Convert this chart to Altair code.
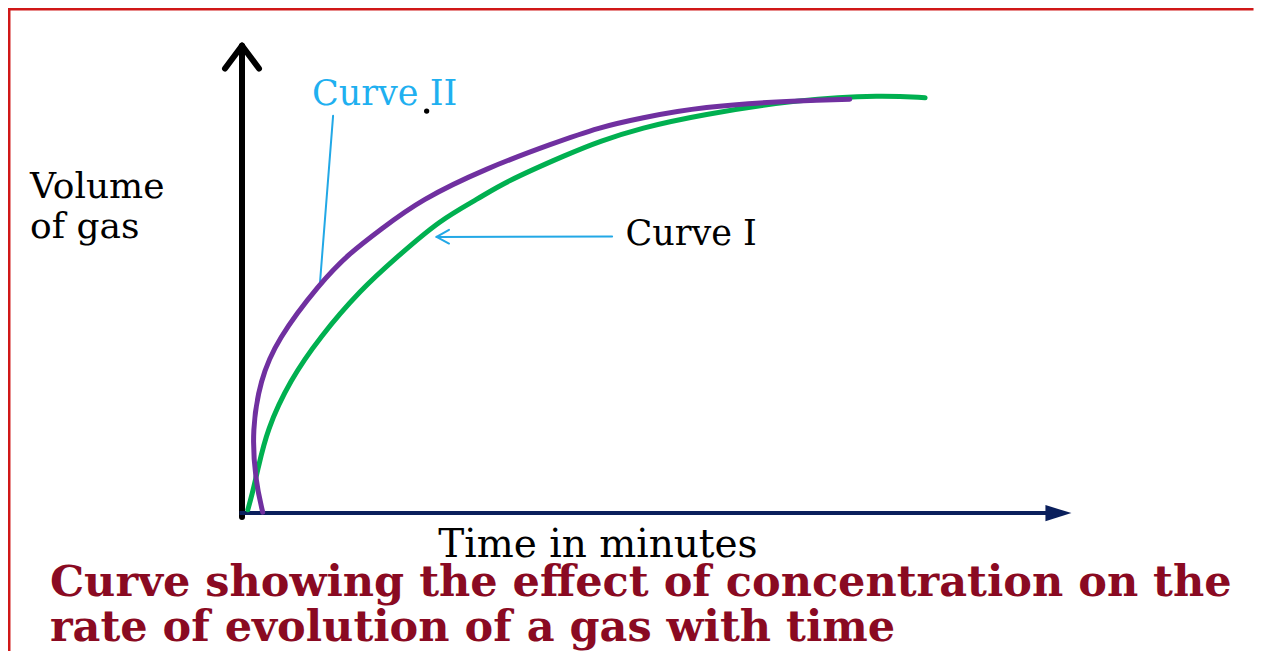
import altair as alt
import pandas as pd

# ---- data (time, volume in arbitrary units 0-100) ----
curve1_t = [0.7, 1.2, 1.9, 3.0, 5.8, 9.4, 14.3, 18.7, 23.9, 28.7, 31.5, 39.6, 43.2, 48.1, 55.3, 67.4, 77.4, 82.5]
curve1_v = [1.1, 4.2, 9.5, 18.0, 28.5, 37.6, 47.6, 54.5, 62.4, 67.0, 70.2, 76.5, 79.0, 81.8, 84.6, 87.9, 88.8, 88.2]
curve2_t = [2.5, 1.6, 1.2, 2.2, 4.2, 9.4, 13.0, 16.7, 21.5, 29.6, 37.6, 43.2, 48.1, 55.3, 67.4, 73.4]
curve2_v = [0.6, 7.4, 18.0, 28.5, 37.0, 49.0, 55.4, 60.3, 66.6, 73.4, 78.6, 82.0, 83.9, 86.3, 87.7, 87.9]

series_names = ["Curve I", "Curve II"]
series_colors = ["#00B050", "#7030A0"]

title_lines = ["Curve showing the effect of concentration on the",
               "rate of evolution of a gas with time"]
y_label_lines = ["Volume", "of gas"]
x_label = "Time in minutes"

# ---- layout (data space) ----
XD = [-28.26, 122.46]
YD = [-28.75, 107.19]
W, H = 1248, 643

xs = alt.Scale(domain=XD, nice=False, zero=False)
ys = alt.Scale(domain=YD, nice=False, zero=False)


def X(f="x"):
    return alt.X(f"{f}:Q", scale=xs, axis=None)


def Y(f="y"):
    return alt.Y(f"{f}:Q", scale=ys, axis=None)


rows = []
for i, (t, v) in enumerate(zip(curve1_t, curve1_v)):
    rows.append({"x": t, "y": v, "s": series_names[0], "o": i})
for i, (t, v) in enumerate(zip(curve2_t, curve2_v)):
    rows.append({"x": t, "y": v, "s": series_names[1], "o": i})
curves_df = pd.DataFrame(rows)

curves = alt.Chart(curves_df).mark_line(
    strokeWidth=5, interpolate="basis", strokeCap="round"
).encode(
    x=X(), y=Y(), order="o:Q",
    color=alt.Color("s:N", scale=alt.Scale(domain=series_names, range=series_colors), legend=None),
)


def seg(df_rows, color, width, cap="round"):
    return alt.Chart(pd.DataFrame(df_rows)).mark_rule(
        color=color, strokeWidth=width, strokeCap=cap
    ).encode(x=X("x"), y=Y("y"), x2="x2:Q", y2="y2:Q")


# frame: left and top edges in red, drawn as thin filled bands
frame = alt.Chart(pd.DataFrame([
    {"x": XD[0], "x2": XD[1] - 0.3, "y": 106.66, "y2": 107.3},
    {"x": XD[0], "x2": XD[0] + 0.3, "y": YD[0], "y2": 107.3},
])).mark_rect(color="#D01818", strokeWidth=0).encode(
    x=X(), x2="x2:Q", y=Y(), y2="y2:Q"
)

# vertical axis (black) with open arrow head
yaxis = seg([
    {"x": 0, "y": -0.4, "x2": 0, "y2": 99.2},
    {"x": 0, "y": 99.2, "x2": -2.05, "y2": 94.4},
    {"x": 0, "y": 99.2, "x2": 2.05, "y2": 94.4},
], "#000000", 6)

# horizontal axis (navy) with filled arrow head
xaxis = seg([
    {"x": -0.3, "y": 0.4, "x2": 97.5, "y2": 0.4},
], "#0A1F5C", 4, "butt")
xhead = alt.Chart(pd.DataFrame([{"x": 98.6, "y": 0.4}])).mark_point(
    shape="M -1 -0.62 L 1 0 L -1 0.62 Z", size=676, filled=True, color="#0A1F5C", opacity=1
).encode(x=X(), y=Y())

# pointer lines (light blue)
blue = "#22A8E6"
pointers = seg([
    {"x": 44.7, "y": 58.9, "x2": 23.5, "y2": 58.8},
    {"x": 23.5, "y": 58.8, "x2": 25.0, "y2": 60.3},
    {"x": 23.5, "y": 58.8, "x2": 25.0, "y2": 57.4},
    {"x": 11.0, "y": 84.4, "x2": 9.4, "y2": 48.7},
], blue, 2)

dot = alt.Chart(pd.DataFrame([{"x": 22.3, "y": 85.4}])).mark_point(
    shape="circle", size=28, filled=True, color="#000000", opacity=1
).encode(x=X(), y=Y())


# texts
def txt(df_rows, color, size, weight="normal"):
    return alt.Chart(pd.DataFrame(df_rows)).mark_text(
        align="left", baseline="alphabetic", font="DejaVu Serif",
        fontSize=size, fontWeight=weight, color=color,
    ).encode(x=X(), y=Y(), text="t:N")


t_ylab = txt([
    {"x": -25.6, "y": 67.0, "t": y_label_lines[0]},
    {"x": -25.6, "y": 58.6, "t": y_label_lines[1]},
], "#000000", 36)
t_c2 = txt([{"x": 8.45, "y": 86.6, "t": series_names[1]}], "#1FB0F0", 35)
t_c1 = txt([{"x": 46.3, "y": 57.1, "t": series_names[0]}], "#000000", 35)
t_xlab = txt([{"x": 23.7, "y": -8.9, "t": x_label}], "#000000", 39)
t_title = txt([
    {"x": -23.2, "y": -17.1, "t": title_lines[0]},
    {"x": -23.2, "y": -26.6, "t": title_lines[1]},
], "#8A0A22", 43, "bold")

chart = alt.layer(
    frame, yaxis, xaxis, xhead, pointers, curves, dot,
    t_ylab, t_c2, t_c1, t_xlab, t_title,
).properties(
    width=W, height=H, padding=0,
    autosize=alt.AutoSizeParams(type="none"),
    background="#FFFFFF",
).configure_view(strokeWidth=0, stroke="transparent")

chart.save("out.html", embed_options={"renderer": "svg", "actions": False})
